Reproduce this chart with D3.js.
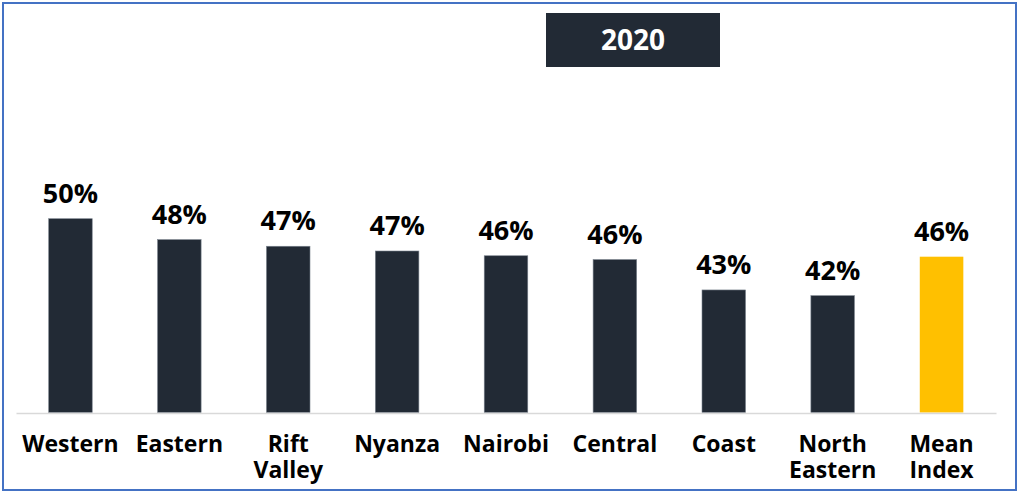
<!DOCTYPE html>
<html lang="en">
<head>
<meta charset="UTF-8">
<title>2020</title>
<style>
  body { margin: 0; background: #fff; }
  text { font-family: "Open Sans", "DejaVu Sans", sans-serif; font-weight: 700; }
</style>
</head>
<body>
<svg id="chart" width="1019" height="492"></svg>
<script src="https://d3js.org/d3.v7.min.js"></script>
<script>
// data (axis starts at ~30%)
var regions = ["Western", "Eastern", "Rift Valley", "Nyanza", "Nairobi", "Central", "Coast", "North Eastern", "Mean Index"];
var values = [50.4, 48.2, 47.5, 47.0, 46.5, 46.1, 42.9, 42.3, 46.4];
var labels = ["50%", "48%", "47%", "47%", "46%", "46%", "43%", "42%", "46%"];
var title = "2020";

var svg = d3.select("#chart");

// outer frame
svg.append("rect")
    .attr("x", 3).attr("y", 3)
    .attr("width", 1013).attr("height", 487)
    .attr("fill", "none")
    .attr("stroke", "#4472c4")
    .attr("stroke-width", 2);

// title box
svg.append("rect")
    .attr("x", 546).attr("y", 13)
    .attr("width", 174).attr("height", 54)
    .attr("fill", "#222a35");
svg.append("text")
    .attr("x", 633).attr("y", 50)
    .attr("text-anchor", "middle")
    .attr("fill", "#fff")
    .style("font-size", "28px")
    .text(title);

var x = d3.scaleBand()
    .domain(regions)
    .range([16, 996])
    .paddingInner(0.6)
    .paddingOuter(0.3);

var y = d3.scaleLinear()
    .domain([30, 52])
    .range([412.5, 203.5]);

// bars
svg.selectAll("rect.bar")
    .data(regions)
    .enter().append("rect")
    .attr("class", "bar")
    .attr("x", function(d) { return x(d); })
    .attr("y", function(d, i) { return y(values[i]); })
    .attr("width", x.bandwidth())
    .attr("height", function(d, i) { return y(30) - y(values[i]); })
    .attr("fill", function(d, i) { return i == regions.length - 1 ? "#ffc000" : "#222a35"; })
    .attr("stroke", function(d, i) { return i == regions.length - 1 ? "none" : "#7b838e"; })
    .attr("stroke-width", 0.6);

// value labels
svg.selectAll("text.val")
    .data(regions)
    .enter().append("text")
    .attr("class", "val")
    .attr("x", function(d) { return x(d) + x.bandwidth() / 2; })
    .attr("y", function(d, i) { return y(values[i]) - 16; })
    .attr("text-anchor", "middle")
    .attr("fill", "#000")
    .style("font-size", "27px")
    .text(function(d, i) { return labels[i]; });

// x axis
var xAxis = svg.append("g")
    .attr("transform", "translate(0,413)")
    .call(d3.axisBottom(x).tickSize(0).tickFormat(""));
xAxis.select(".domain").attr("stroke", "#d9d9d9").attr("stroke-width", 1.5);

xAxis.selectAll(".tick text").remove();
xAxis.selectAll(".tick").append("text")
    .attr("text-anchor", "middle")
    .attr("fill", "#000")
    .style("font-size", "23px")
    .each(function(d) {
        var words = d.split(" ");
        var t = d3.select(this);
        words.forEach(function(w, k) {
            t.append("tspan").attr("x", 0).attr("y", 39 + k * 25.5).text(w);
        });
    });
</script>
</body>
</html>
